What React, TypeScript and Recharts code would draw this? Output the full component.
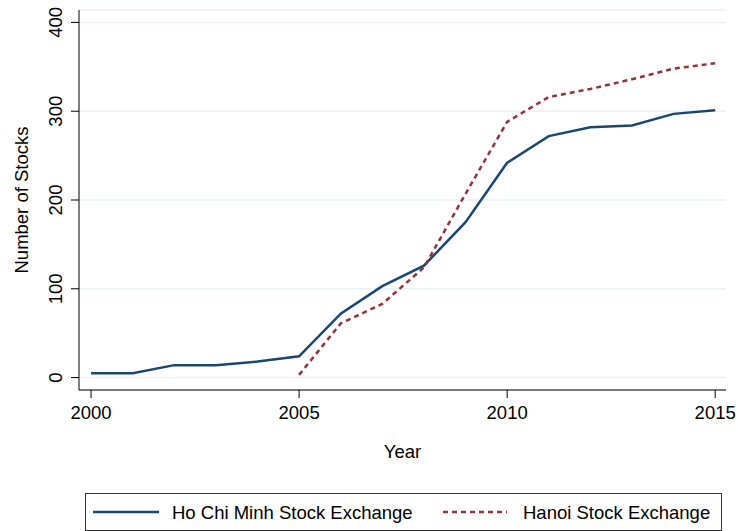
import { CartesianGrid, Legend, Line, LineChart, XAxis, YAxis } from 'recharts';

const YEARS = [2000, 2001, 2002, 2003, 2004, 2005, 2006, 2007, 2008, 2009, 2010, 2011, 2012, 2013, 2014, 2015];
const HOSE = [5, 5, 14, 14, 18, 24, 72, 103, 126, 175, 242, 272, 282, 284, 297, 301];
const HNX = [null, null, null, null, null, 3, 61, 83, 124, 207, 288, 316, 325, 336, 348, 354];
const X_TICKS = [2000, 2005, 2010, 2015];
const Y_TICKS = [0, 100, 200, 300, 400];

const COLORS = {
  hose: '#1a476f', // stata navy
  hnx: '#90353b', // stata maroon
  grid: '#eaf2f3',
  axis: '#000000',
};

const FONT = '"Liberation Sans", Arial, sans-serif';
const FS = 18.5;

const data = YEARS.map((year, i) => ({ year, hose: HOSE[i], hnx: HNX[i] }));

function XTick({ x, y, payload }: any) {
  return (
    <text x={x} y={y + 21} textAnchor="middle" fontFamily={FONT} fontSize={FS} fill="#000">
      {payload.value}
    </text>
  );
}

function YTick({ x, y, payload }: any) {
  const bx = x - 9;
  return (
    <text
      x={bx}
      y={y}
      transform={`rotate(-90, ${bx}, ${y})`}
      textAnchor="middle"
      fontFamily={FONT}
      fontSize={FS}
      fill="#000"
    >
      {payload.value}
    </text>
  );
}

function XLabel({ viewBox }: any) {
  return (
    <text
      x={viewBox.x + viewBox.width / 2}
      y={viewBox.y + 68}
      textAnchor="middle"
      fontFamily={FONT}
      fontSize={FS}
      fill="#000"
    >
      Year
    </text>
  );
}

function YLabel({ viewBox }: any) {
  const cx = 28;
  const cy = viewBox.y + viewBox.height / 2;
  return (
    <text
      x={cx}
      y={cy}
      transform={`rotate(-90, ${cx}, ${cy})`}
      textAnchor="middle"
      fontFamily={FONT}
      fontSize={FS}
      fill="#000"
    >
      Number of Stocks
    </text>
  );
}

function LegendBox() {
  return (
    <svg width={637} height={38} style={{ display: 'block' }}>
      <rect x={0.5} y={0.5} width={636} height={37} fill="#fff" stroke="#333" strokeWidth={1} />
      <line x1={8} x2={74} y1={19} y2={19} stroke={COLORS.hose} strokeWidth={2.5} />
      <text x={87} y={25.5} fontFamily={FONT} fontSize={FS} fill="#000">
        Ho Chi Minh Stock Exchange
      </text>
      <line x1={358} x2={422} y1={19} y2={19} stroke={COLORS.hnx} strokeWidth={2.5} strokeDasharray="5 4" />
      <text x={438} y={25.5} fontFamily={FONT} fontSize={FS} fill="#000">
        Hanoi Stock Exchange
      </text>
    </svg>
  );
}

export default function App() {
  return (
    <div style={{ position: 'absolute', left: 0, top: 0, width: 738, height: 531, background: '#fff' }}>
      <LineChart width={738} height={531} data={data} margin={{ top: 10, right: 12, left: 0, bottom: 0 }}>
        <CartesianGrid vertical={false} stroke={COLORS.grid} strokeWidth={1.5} />
        <XAxis
          dataKey="year"
          type="number"
          domain={[1999.71, 2015.26]}
          ticks={X_TICKS}
          height={141}
          tickSize={8}
          tickMargin={0}
          tick={<XTick />}
          axisLine={{ stroke: COLORS.axis }}
          tickLine={{ stroke: COLORS.axis }}
          label={<XLabel />}
        />
        <YAxis
          type="number"
          domain={[-14, 414]}
          ticks={Y_TICKS}
          width={79}
          tickSize={8}
          tickMargin={0}
          tick={<YTick />}
          axisLine={{ stroke: COLORS.axis }}
          tickLine={{ stroke: COLORS.axis }}
          label={<YLabel />}
        />
        <Legend
          layout="horizontal"
          verticalAlign="middle"
          align="center"
          wrapperStyle={{ top: 493, left: 85, width: 637, height: 38 }}
          content={() => <LegendBox />}
        />
        <Line
          type="linear"
          dataKey="hose"
          stroke={COLORS.hose}
          strokeWidth={2.5}
          dot={false}
          name="Ho Chi Minh Stock Exchange"
          isAnimationActive={false}
        />
        <Line
          type="linear"
          dataKey="hnx"
          stroke={COLORS.hnx}
          strokeWidth={2.5}
          strokeDasharray="5 4"
          dot={false}
          name="Hanoi Stock Exchange"
          isAnimationActive={false}
        />
      </LineChart>
    </div>
  );
}
